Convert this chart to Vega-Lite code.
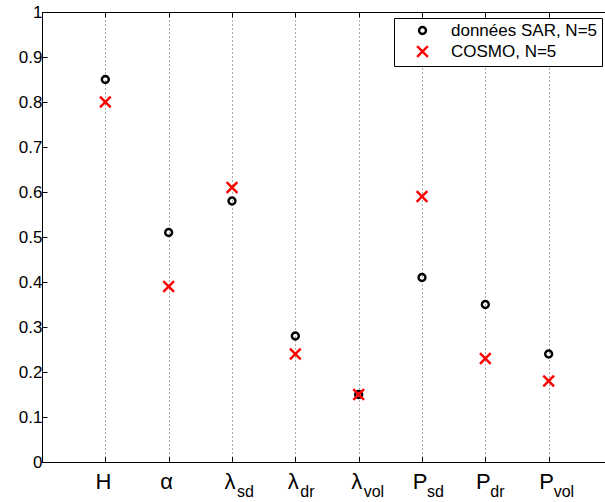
{
  "$schema": "https://vega.github.io/schema/vega-lite/v6.json",
  "width": 570,
  "height": 450,
  "autosize": {"type": "none"},
  "padding": {"left": 42, "top": 12, "right": 0, "bottom": 40},
  "background": "white",
  "config": {
    "font": "Liberation Sans",
    "view": {"stroke": "black", "strokeWidth": 1},
    "axis": {"domainColor": "black", "domainWidth": 1, "tickColor": "black", "tickWidth": 1, "labelColor": "black", "labelFont": "Liberation Sans"}
  },
  "datasets": {
    "points": [
      {"pos": 1, "param": "H", "series": "données SAR, N=5", "value": 0.85},
      {"pos": 2, "param": "α", "series": "données SAR, N=5", "value": 0.51},
      {"pos": 3, "param": "λsd", "series": "données SAR, N=5", "value": 0.58},
      {"pos": 4, "param": "λdr", "series": "données SAR, N=5", "value": 0.28},
      {"pos": 5, "param": "λvol", "series": "données SAR, N=5", "value": 0.15},
      {"pos": 6, "param": "Psd", "series": "données SAR, N=5", "value": 0.41},
      {"pos": 7, "param": "Pdr", "series": "données SAR, N=5", "value": 0.35},
      {"pos": 8, "param": "Pvol", "series": "données SAR, N=5", "value": 0.24},
      {"pos": 1, "param": "H", "series": "COSMO, N=5", "value": 0.80},
      {"pos": 2, "param": "α", "series": "COSMO, N=5", "value": 0.39},
      {"pos": 3, "param": "λsd", "series": "COSMO, N=5", "value": 0.61},
      {"pos": 4, "param": "λdr", "series": "COSMO, N=5", "value": 0.24},
      {"pos": 5, "param": "λvol", "series": "COSMO, N=5", "value": 0.15},
      {"pos": 6, "param": "Psd", "series": "COSMO, N=5", "value": 0.59},
      {"pos": 7, "param": "Pdr", "series": "COSMO, N=5", "value": 0.23},
      {"pos": 8, "param": "Pvol", "series": "COSMO, N=5", "value": 0.18}
    ],
    "labels": [
      {"pos": 1, "main": "H", "sub": ""},
      {"pos": 2, "main": "α", "sub": ""},
      {"pos": 3, "main": "λ", "sub": "sd"},
      {"pos": 4, "main": "λ", "sub": "dr"},
      {"pos": 5, "main": "λ", "sub": "vol"},
      {"pos": 6, "main": "P", "sub": "sd"},
      {"pos": 7, "main": "P", "sub": "dr"},
      {"pos": 8, "main": "P", "sub": "vol"}
    ]
  },
  "layer": [
    {
      "data": {"name": "points"},
      "mark": {"type": "point", "filled": false, "strokeWidth": 2.4, "opacity": 1},
      "encoding": {
        "x": {
          "field": "pos", "type": "quantitative",
          "scale": {"domain": [0, 9], "nice": false, "zero": false},
          "axis": {"orient": "bottom", "values": [1, 2, 3, 4, 5, 6, 7, 8], "labels": false, "title": null, "tickSize": -5, "grid": true, "gridDash": [1, 3], "gridColor": "#8c8c8c", "gridWidth": 1}
        },
        "y": {
          "field": "value", "type": "quantitative",
          "scale": {"domain": [0, 1], "nice": false},
          "axis": {"orient": "left", "values": [0, 0.1, 0.2, 0.3, 0.4, 0.5, 0.6, 0.7, 0.8, 0.9, 1], "format": ".1~f", "title": null, "tickSize": -5, "labelPadding": 5, "labelFontSize": 17, "grid": false}
        },
        "color": {
          "field": "series", "type": "nominal",
          "scale": {"domain": ["données SAR, N=5", "COSMO, N=5"], "range": ["black", "#ff0000"]},
          "legend": {"title": null, "orient": "none", "legendX": 352, "legendY": 6, "strokeColor": "black", "fillColor": "white", "padding": 4, "labelFontSize": 17, "labelFont": "Liberation Sans", "labelColor": "black", "symbolOffset": 16, "labelOffset": 20, "rowPadding": 2, "symbolStrokeWidth": 2.4, "cornerRadius": 0}
        },
        "shape": {
          "field": "series", "type": "nominal",
          "scale": {"domain": ["données SAR, N=5", "COSMO, N=5"], "range": ["circle", "M-1,-1L1,1M1,-1L-1,1"]}
        },
        "size": {
          "field": "series", "type": "nominal",
          "scale": {"domain": ["données SAR, N=5", "COSMO, N=5"], "range": [48, 115]}
        }
      }
    },
    {
      "data": {"name": "labels"},
      "mark": {"type": "text", "align": "center", "baseline": "alphabetic", "fontSize": 22, "dx": -2, "dy": 27, "color": "black", "font": "Liberation Sans"},
      "encoding": {
        "x": {"field": "pos", "type": "quantitative", "axis": {"orient": "top", "values": [1, 2, 3, 4, 5, 6, 7, 8], "labels": false, "title": null, "tickSize": -5, "grid": false}},
        "y": {"datum": 0, "type": "quantitative", "axis": {"orient": "left", "values": [0, 0.1, 0.2, 0.3, 0.4, 0.5, 0.6, 0.7, 0.8, 0.9, 1], "format": ".1~f", "title": null, "tickSize": -5, "labelPadding": 5, "labelFontSize": 17, "grid": false}},
        "text": {"field": "main"}
      }
    },
    {
      "data": {"name": "labels"},
      "mark": {"type": "text", "align": "left", "baseline": "alphabetic", "fontSize": 16, "dx": 5, "dy": 35, "color": "black", "font": "Liberation Sans"},
      "encoding": {
        "x": {"field": "pos", "type": "quantitative", "axis": {"orient": "bottom", "values": [1, 2, 3, 4, 5, 6, 7, 8], "labels": false, "title": null, "tickSize": -5, "grid": true, "gridDash": [1, 3], "gridColor": "#8c8c8c", "gridWidth": 1}},
        "y": {"datum": 0, "type": "quantitative", "axis": {"orient": "left", "values": [0, 0.1, 0.2, 0.3, 0.4, 0.5, 0.6, 0.7, 0.8, 0.9, 1], "format": ".1~f", "title": null, "tickSize": -5, "labelPadding": 5, "labelFontSize": 17, "grid": false}},
        "text": {"field": "sub"}
      }
    }
  ]
}
